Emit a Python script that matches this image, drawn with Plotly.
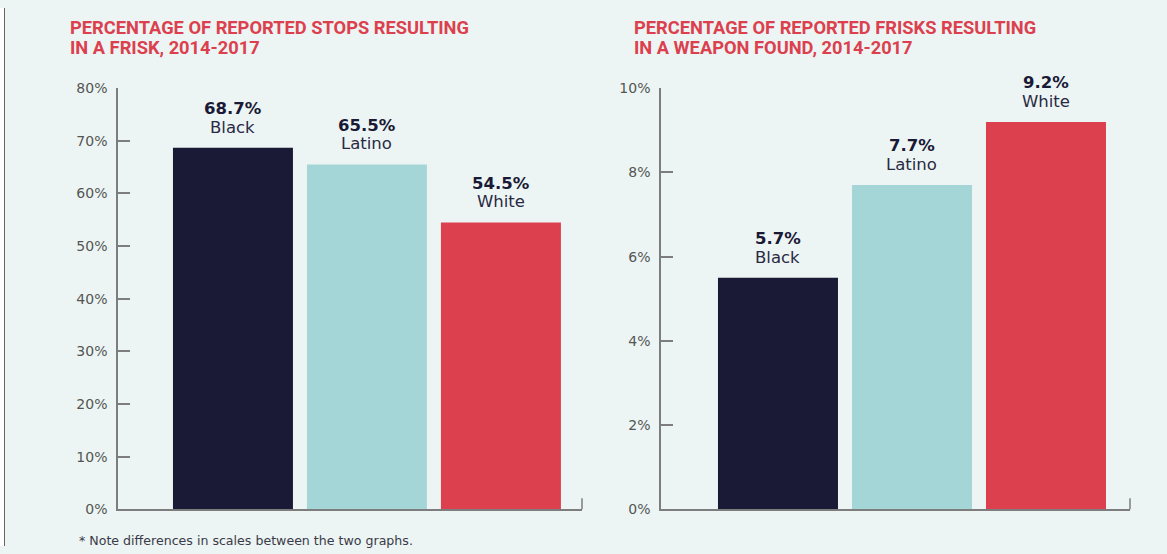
import plotly.graph_objects as go

# ---- data ----
groups = ["Black", "Latino", "White"]
stops_frisk_pct = [68.7, 65.5, 54.5]
stops_frisk_labels = ["68.7%", "65.5%", "54.5%"]
frisk_weapon_pct = [5.5, 7.7, 9.2]          # bar heights as drawn
frisk_weapon_labels = ["5.7%", "7.7%", "9.2%"]  # printed labels
left_ticks = [0, 10, 20, 30, 40, 50, 60, 70, 80]
right_ticks = [0, 2, 4, 6, 8, 10]
left_title = ["PERCENTAGE OF REPORTED STOPS RESULTING", "IN A FRISK, 2014-2017"]
right_title = ["PERCENTAGE OF REPORTED FRISKS RESULTING", "IN A WEAPON FOUND, 2014-2017"]
note = "* Note differences in scales between the two graphs."

bar_colors = ["#1A1936", "#A5D6D7", "#DC404E"]
BG = "#ECF5F3"
AX = "#7d7d7d"
W, H = 1167, 554

# vertical mapping of the photographed page (observed): img_y = OFF + K * page_y
OFF, K = 7.8, 0.971


def fy(img_y):
    """paper fraction for a desired vertical position in the picture"""
    return 1 - ((img_y - OFF) / K) / H


def px(d):
    return d / K


fig = go.Figure()
fig.add_trace(go.Bar(x=groups, y=stops_frisk_pct, marker=dict(color=bar_colors, line=dict(width=0)),
                     xaxis="x", yaxis="y", showlegend=False, hoverinfo="skip"))
fig.add_trace(go.Bar(x=groups, y=frisk_weapon_pct, marker=dict(color=bar_colors, line=dict(width=0)),
                     xaxis="x2", yaxis="y2", showlegend=False, hoverinfo="skip"))

ydom = [fy(509), fy(88)]
dom_px = (ydom[1] - ydom[0]) * H
xcommon = dict(showline=True, linecolor=AX, linewidth=1.5, showticklabels=False, ticks="",
               showgrid=False, zeroline=False, fixedrange=True)
ycommon = dict(showline=True, linecolor=AX, linewidth=1.5, ticks="inside", ticklen=12,
               tickcolor=AX, tickwidth=1.5, showgrid=False, zeroline=False,
               tickfont=dict(family="DejaVu Sans", size=14, color="#555555"),
               ticklabelstandoff=6, domain=ydom)

fig.update_layout(
    width=W, height=H, margin=dict(l=0, r=0, t=0, b=0),
    paper_bgcolor=BG, plot_bgcolor="rgba(0,0,0,0)",
    bargap=0.1045,
    xaxis=dict(domain=[118 / W, 582 / W], range=[-0.858, 2.605], anchor="y", **xcommon),
    yaxis=dict(range=[0, 80], tickmode="array", tickvals=left_ticks,
               ticktext=[f"{v}%" for v in left_ticks], anchor="x", **ycommon),
    xaxis2=dict(domain=[661 / W, 1130 / W], range=[-0.873, 2.627], anchor="y2", **xcommon),
    yaxis2=dict(range=[0, 10], tickmode="array", tickvals=right_ticks,
                ticktext=[f"{v}%" for v in right_ticks], anchor="x2", **ycommon),
)

shapes = [
    dict(type="rect", xref="paper", yref="paper", x0=0, x1=5 / W, y0=0, y1=1,
         fillcolor="white", line=dict(width=0), layer="below"),
    dict(type="line", xref="paper", yref="paper", x0=4.5 / W, x1=4.5 / W, y0=0, y1=1,
         line=dict(color="#666666", width=1), layer="below"),
    dict(type="line", xref="x domain", yref="y domain", x0=1, x1=1, y0=0, y1=px(11) / dom_px,
         line=dict(color=AX, width=1.5)),
    dict(type="line", xref="x2 domain", yref="y2 domain", x0=1, x1=1, y0=0, y1=px(11) / dom_px,
         line=dict(color=AX, width=1.5)),
]

annotations = []
for xref, yref, vals, labs in [("x", "y", stops_frisk_pct, stops_frisk_labels),
                               ("x2", "y2", frisk_weapon_pct, frisk_weapon_labels)]:
    for g, v, lab in zip(groups, vals, labs):
        annotations.append(dict(x=g, y=v, xref=xref, yref=yref, text=lab, showarrow=False,
                                xanchor="center", yanchor="middle", yshift=px(38),
                                font=dict(family="DejaVu Sans", size=16.5, color="#1A1936", weight=700)))
        annotations.append(dict(x=g, y=v, xref=xref, yref=yref, text=g, showarrow=False,
                                xanchor="center", yanchor="middle", yshift=px(20),
                                font=dict(family="DejaVu Sans", size=16.5, color="#2a2944")))

for x0, lines in [(68, left_title), (632, right_title)]:
    for i, line in enumerate(lines):
        annotations.append(dict(x=x0 / W, y=fy(27 + 20 * i), xref="paper", yref="paper",
                                text=line, showarrow=False, xanchor="left", yanchor="middle",
                                font=dict(family="Roboto", size=18.3, color="#DC404E", weight=700)))

annotations.append(dict(x=77 / W, y=fy(540), xref="paper", yref="paper", text=note,
                        showarrow=False, xanchor="left", yanchor="middle",
                        font=dict(family="DejaVu Sans", size=12.6, color="#3a3a48")))

fig.update_layout(shapes=shapes, annotations=annotations)

post = (
    "var gd=document.getElementById('{plot_id}');"
    "gd.style.position='absolute';gd.style.top='0px';gd.style.left='0px';"
    "document.documentElement.style.margin='0';document.documentElement.style.padding='0';"
    "document.documentElement.style.overflow='hidden';"
    "document.body.style.margin='0';document.body.style.padding='0';document.body.style.overflow='hidden';"
)
fig.write_html("out.html", config={"displayModeBar": False, "responsive": False}, post_script=post)
